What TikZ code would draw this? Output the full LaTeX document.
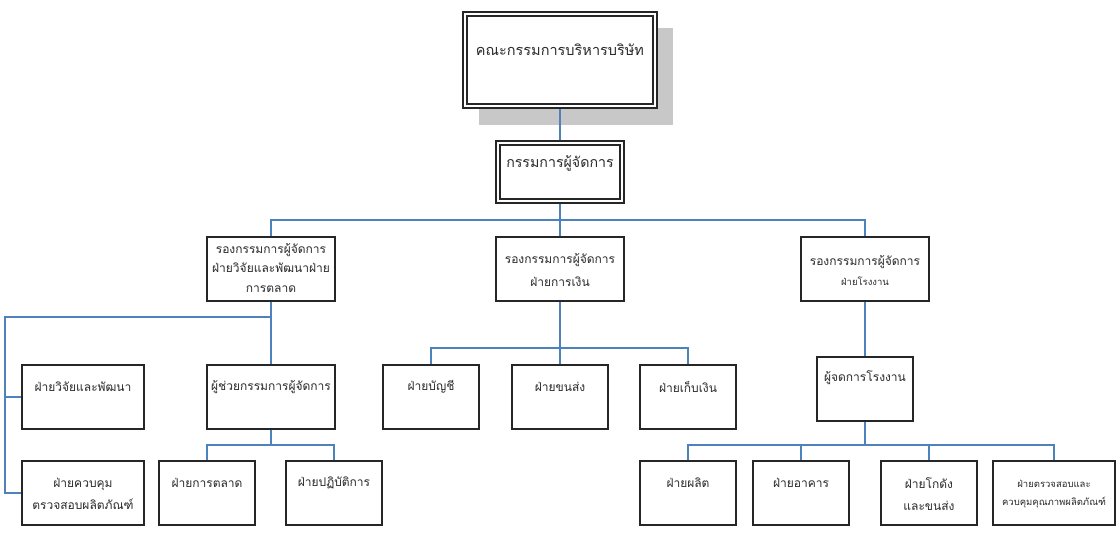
\documentclass[tikz,border=0pt]{standalone}
\usepackage{fontspec}
\newfontfamily\thaifont[Script=Thai]{Loma}
\definecolor{conn}{HTML}{4F81BD}
\definecolor{txtc}{HTML}{2A2A2A}
\definecolor{shadowc}{HTML}{C8C8C8}
\tikzset{
  box/.style={draw=black!85, line width=1.5pt, fill=white, inner sep=0pt},
  obox/.style={box, line width=1.6pt},
  ibox/.style={draw=black!85, line width=1.2pt, inner sep=0pt},
  txt/.style={text=txtc, font=\thaifont\fontsize{12}{19.5}\selectfont, align=center, inner sep=0pt},
  smalltxt/.style={text=txtc, font=\thaifont\fontsize{9.5}{18}\selectfont, align=center, inner sep=0pt},
  conn/.style={draw=conn, line width=1.3pt}
}
\begin{document}
\begin{tikzpicture}[x=1pt,y=-1pt]
\useasboundingbox (0,0) rectangle (1120,550);
\fill[white] (0,0) rectangle (1120,550);
% shadow
\fill[shadowc] (479,28) rectangle (673,125);
% top boxes
\node[obox, minimum width=194pt, minimum height=96pt] (top) at (560,60) {};
\node[ibox, minimum width=186pt, minimum height=88pt] (topi) at (560,60) {};
\node[txt, font=\thaifont\fontsize{14.5}{16}\selectfont] (toptxt) at (560,50) {คณะกรรมการบริหารบริษัท};
\node[obox, minimum width=128pt, minimum height=62pt] (md) at (560,172) {};
\node[ibox, minimum width=120pt, minimum height=54pt] (mdi) at (560,172) {};
\node[txt, font=\thaifont\fontsize{14.2}{16}\selectfont] (mdtxt) at (560,163) {กรรมการผู้จัดการ};
% level 2
\node[box, minimum width=128pt, minimum height=64pt] (l2a) at (271,269) {};
\node[txt] (l2atxt) at (271,268) {รองกรรมการผู้จัดการ\\ฝ่ายวิจัยและพัฒนาฝ่าย\\การตลาด};
\node[box, minimum width=128pt, minimum height=64pt] (l2b) at (560,269) {};
\node[txt, font=\thaifont\fontsize{12}{23}\selectfont] (l2btxt) at (560,270.5) {รองกรรมการผู้จัดการ\\ฝ่ายการเงิน};
\node[box, minimum width=128pt, minimum height=64pt] (l2c) at (865,269) {};
\node[txt] (l2ctxt) at (865,262) {รองกรรมการผู้จัดการ};
\node[smalltxt] (l2ctxt2) at (865,281) {ฝ่ายโรงงาน};
% left branch
\node[box, minimum width=122pt, minimum height=64pt] (a1) at (83,397) {};
\node[txt] (a1txt) at (83,387) {ฝ่ายวิจัยและพัฒนา};
\node[box, minimum width=128pt, minimum height=64pt] (a2) at (271,397) {};
\node[txt] (a2txt) at (271,387) {ผู้ช่วยกรรมการผู้จัดการ};
\node[box, minimum width=122pt, minimum height=64pt] (a3) at (83,493) {};
\node[txt, font=\thaifont\fontsize{12}{22}\selectfont] (a3txt) at (83,494) {ฝ่ายควบคุม\\ตรวจสอบผลิตภัณฑ์};
\node[box, minimum width=96pt, minimum height=64pt] (a4) at (207,493) {};
\node[txt] (a4txt) at (207,483) {ฝ่ายการตลาด};
\node[box, minimum width=96pt, minimum height=64pt] (a5) at (334,493) {};
\node[txt] (a5txt) at (334,483) {ฝ่ายปฏิบัติการ};
% middle branch
\node[box, minimum width=96pt, minimum height=64pt] (b1) at (431,397) {};
\node[txt] (b1txt) at (431,387) {ฝ่ายบัญชี};
\node[box, minimum width=96pt, minimum height=64pt] (b2) at (560,397) {};
\node[txt] (b2txt) at (560,387) {ฝ่ายขนส่ง};
\node[box, minimum width=96pt, minimum height=64pt] (b3) at (688,397) {};
\node[txt] (b3txt) at (688,387) {ฝ่ายเก็บเงิน};
% right branch
\node[box, minimum width=96pt, minimum height=64pt] (c1) at (865,389) {};
\node[txt] (c1txt) at (865,378) {ผู้จดการโรงงาน};
\node[box, minimum width=96pt, minimum height=64pt] (d1) at (688,493) {};
\node[txt] (d1txt) at (688,483) {ฝ่ายผลิต};
\node[box, minimum width=96pt, minimum height=64pt] (d2) at (801,493) {};
\node[txt] (d2txt) at (801,483) {ฝ่ายอาคาร};
\node[box, minimum width=96pt, minimum height=64pt] (d3) at (929,493) {};
\node[txt, font=\thaifont\fontsize{12}{22}\selectfont] (d3txt) at (929,494) {ฝ่ายโกดัง\\และขนส่ง};
\node[box, minimum width=122pt, minimum height=64pt] (d4) at (1054,493) {};
\node[smalltxt] (d4txt) at (1054,494) {ฝ่ายตรวจสอบและ\\ควบคุมคุณภาพผลิตภัณฑ์};
% coordinates
\coordinate (bar1) at (0,220);
\coordinate (bar2) at (5,317);
\coordinate (bar3) at (0,445);
\coordinate (bar4) at (0,348);
% connectors
\draw[conn] (top.south) -- (md.north);
\draw[conn] (md.south) -- (l2b.north);
\draw[conn] (md.south |- bar1) -| (l2a.north);
\draw[conn] (md.south |- bar1) -| (l2c.north);
\draw[conn] (l2a.south) -- (a2.north);
\draw[conn] (l2a.south |- bar2) -- (bar2) |- (a3.west);
\draw[conn] (bar2 |- a1.west) -- (a1.west);
\draw[conn] (a2.south) -- (a2.south |- bar3) -| (a4.north);
\draw[conn] (a2.south |- bar3) -| (a5.north);
\draw[conn] (l2b.south) -- (b2.north);
\draw[conn] (l2b.south |- bar4) -| (b1.north);
\draw[conn] (l2b.south |- bar4) -| (b3.north);
\draw[conn] (l2c.south) -- (c1.north);
\draw[conn] (c1.south) -- (c1.south |- bar3) -| (d1.north);
\draw[conn] (c1.south |- bar3) -| (d2.north);
\draw[conn] (c1.south |- bar3) -| (d3.north);
\draw[conn] (c1.south |- bar3) -| (d4.north);
\end{tikzpicture}
\end{document}
